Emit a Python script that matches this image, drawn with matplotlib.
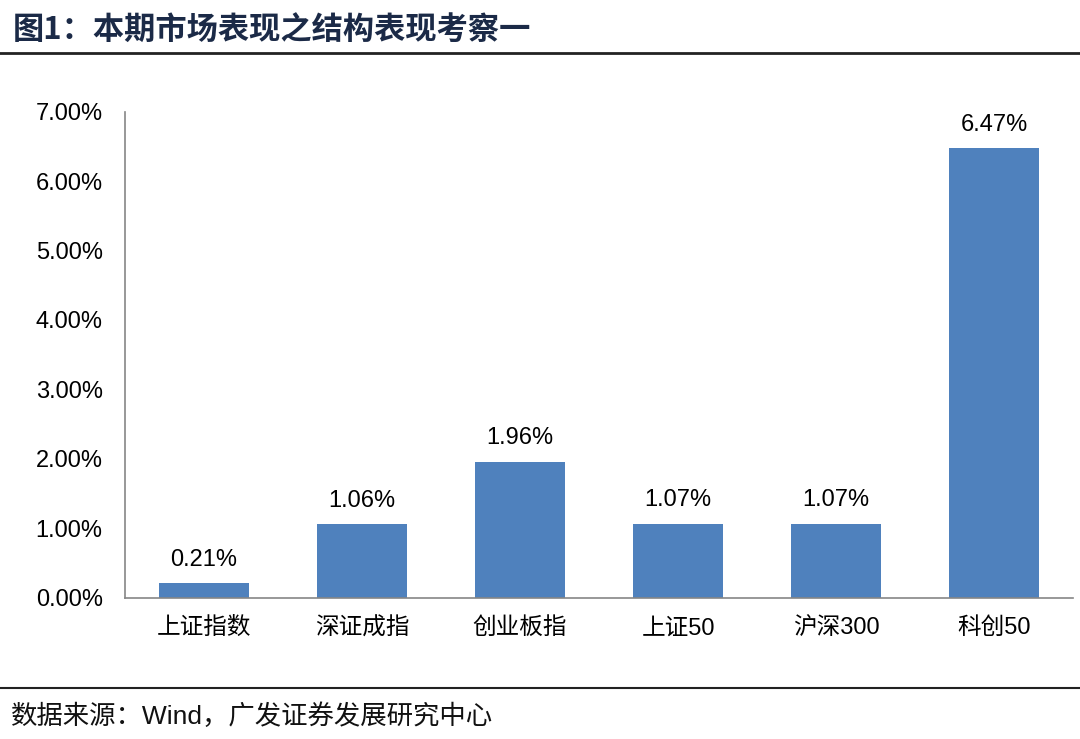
import matplotlib
matplotlib.use("Agg")
import matplotlib.pyplot as plt
from matplotlib.lines import Line2D
from matplotlib.ticker import FuncFormatter

plt.rcParams['font.family'] = ['Liberation Sans', 'Noto Sans CJK SC', 'DejaVu Sans']

# Data
categories = ["上证指数", "深证成指", "创业板指", "上证50", "沪深300", "科创50"]
returns = [0.21, 1.06, 1.96, 1.07, 1.07, 6.47]
yticks = [0, 1, 2, 3, 4, 5, 6, 7]

bar_color = "#4F81BD"
title_color = "#1B2A47"

fig = plt.figure(figsize=(10.8, 7.39), dpi=100)
ax = fig.add_axes([0.1157, 0.191, 0.878, 0.658])

ax.bar(range(len(categories)), returns, width=0.57, color=bar_color)
for i, v in enumerate(returns):
    ax.text(i, v + 0.18, f"{v:.2f}%", ha="center", va="bottom", fontsize=17, color="#000000")

ax.set_xlim(-0.5, len(categories) - 0.5)
ax.set_ylim(0, 7)
ax.set_yticks(yticks)
ax.yaxis.set_major_formatter(FuncFormatter(lambda y, _: f"{y:.2f}%"))
ax.set_xticks(range(len(categories)))
ax.set_xticklabels(categories)
ax.tick_params(axis="both", length=0, labelsize=17, colors="#000000")
ax.tick_params(axis="y", pad=16)
ax.tick_params(axis="x", pad=14)

for s in ["top", "right"]:
    ax.spines[s].set_visible(False)
ax.spines["left"].set_color("#868686")
ax.spines["bottom"].set_color("#868686")
ax.spines["left"].set_linewidth(1.2)
ax.spines["bottom"].set_linewidth(1.2)

# Title and rules
fig.text(0.012, 0.958, "图1：本期市场表现之结构表现考察一", fontsize=22.5, fontweight="bold",
         color=title_color, ha="left", va="center", family=['Noto Sans CJK SC', 'DejaVu Sans'])
fig.add_artist(Line2D([0, 1], [0.928, 0.928], color="#222222", linewidth=2.0))
fig.add_artist(Line2D([0, 1], [0.069, 0.069], color="#222222", linewidth=1.5))

fig.text(0.01, 0.031, "数据来源：Wind，广发证券发展研究中心", fontsize=19,
         color="#111111", ha="left", va="center")

fig.savefig("out.png", dpi=100)
